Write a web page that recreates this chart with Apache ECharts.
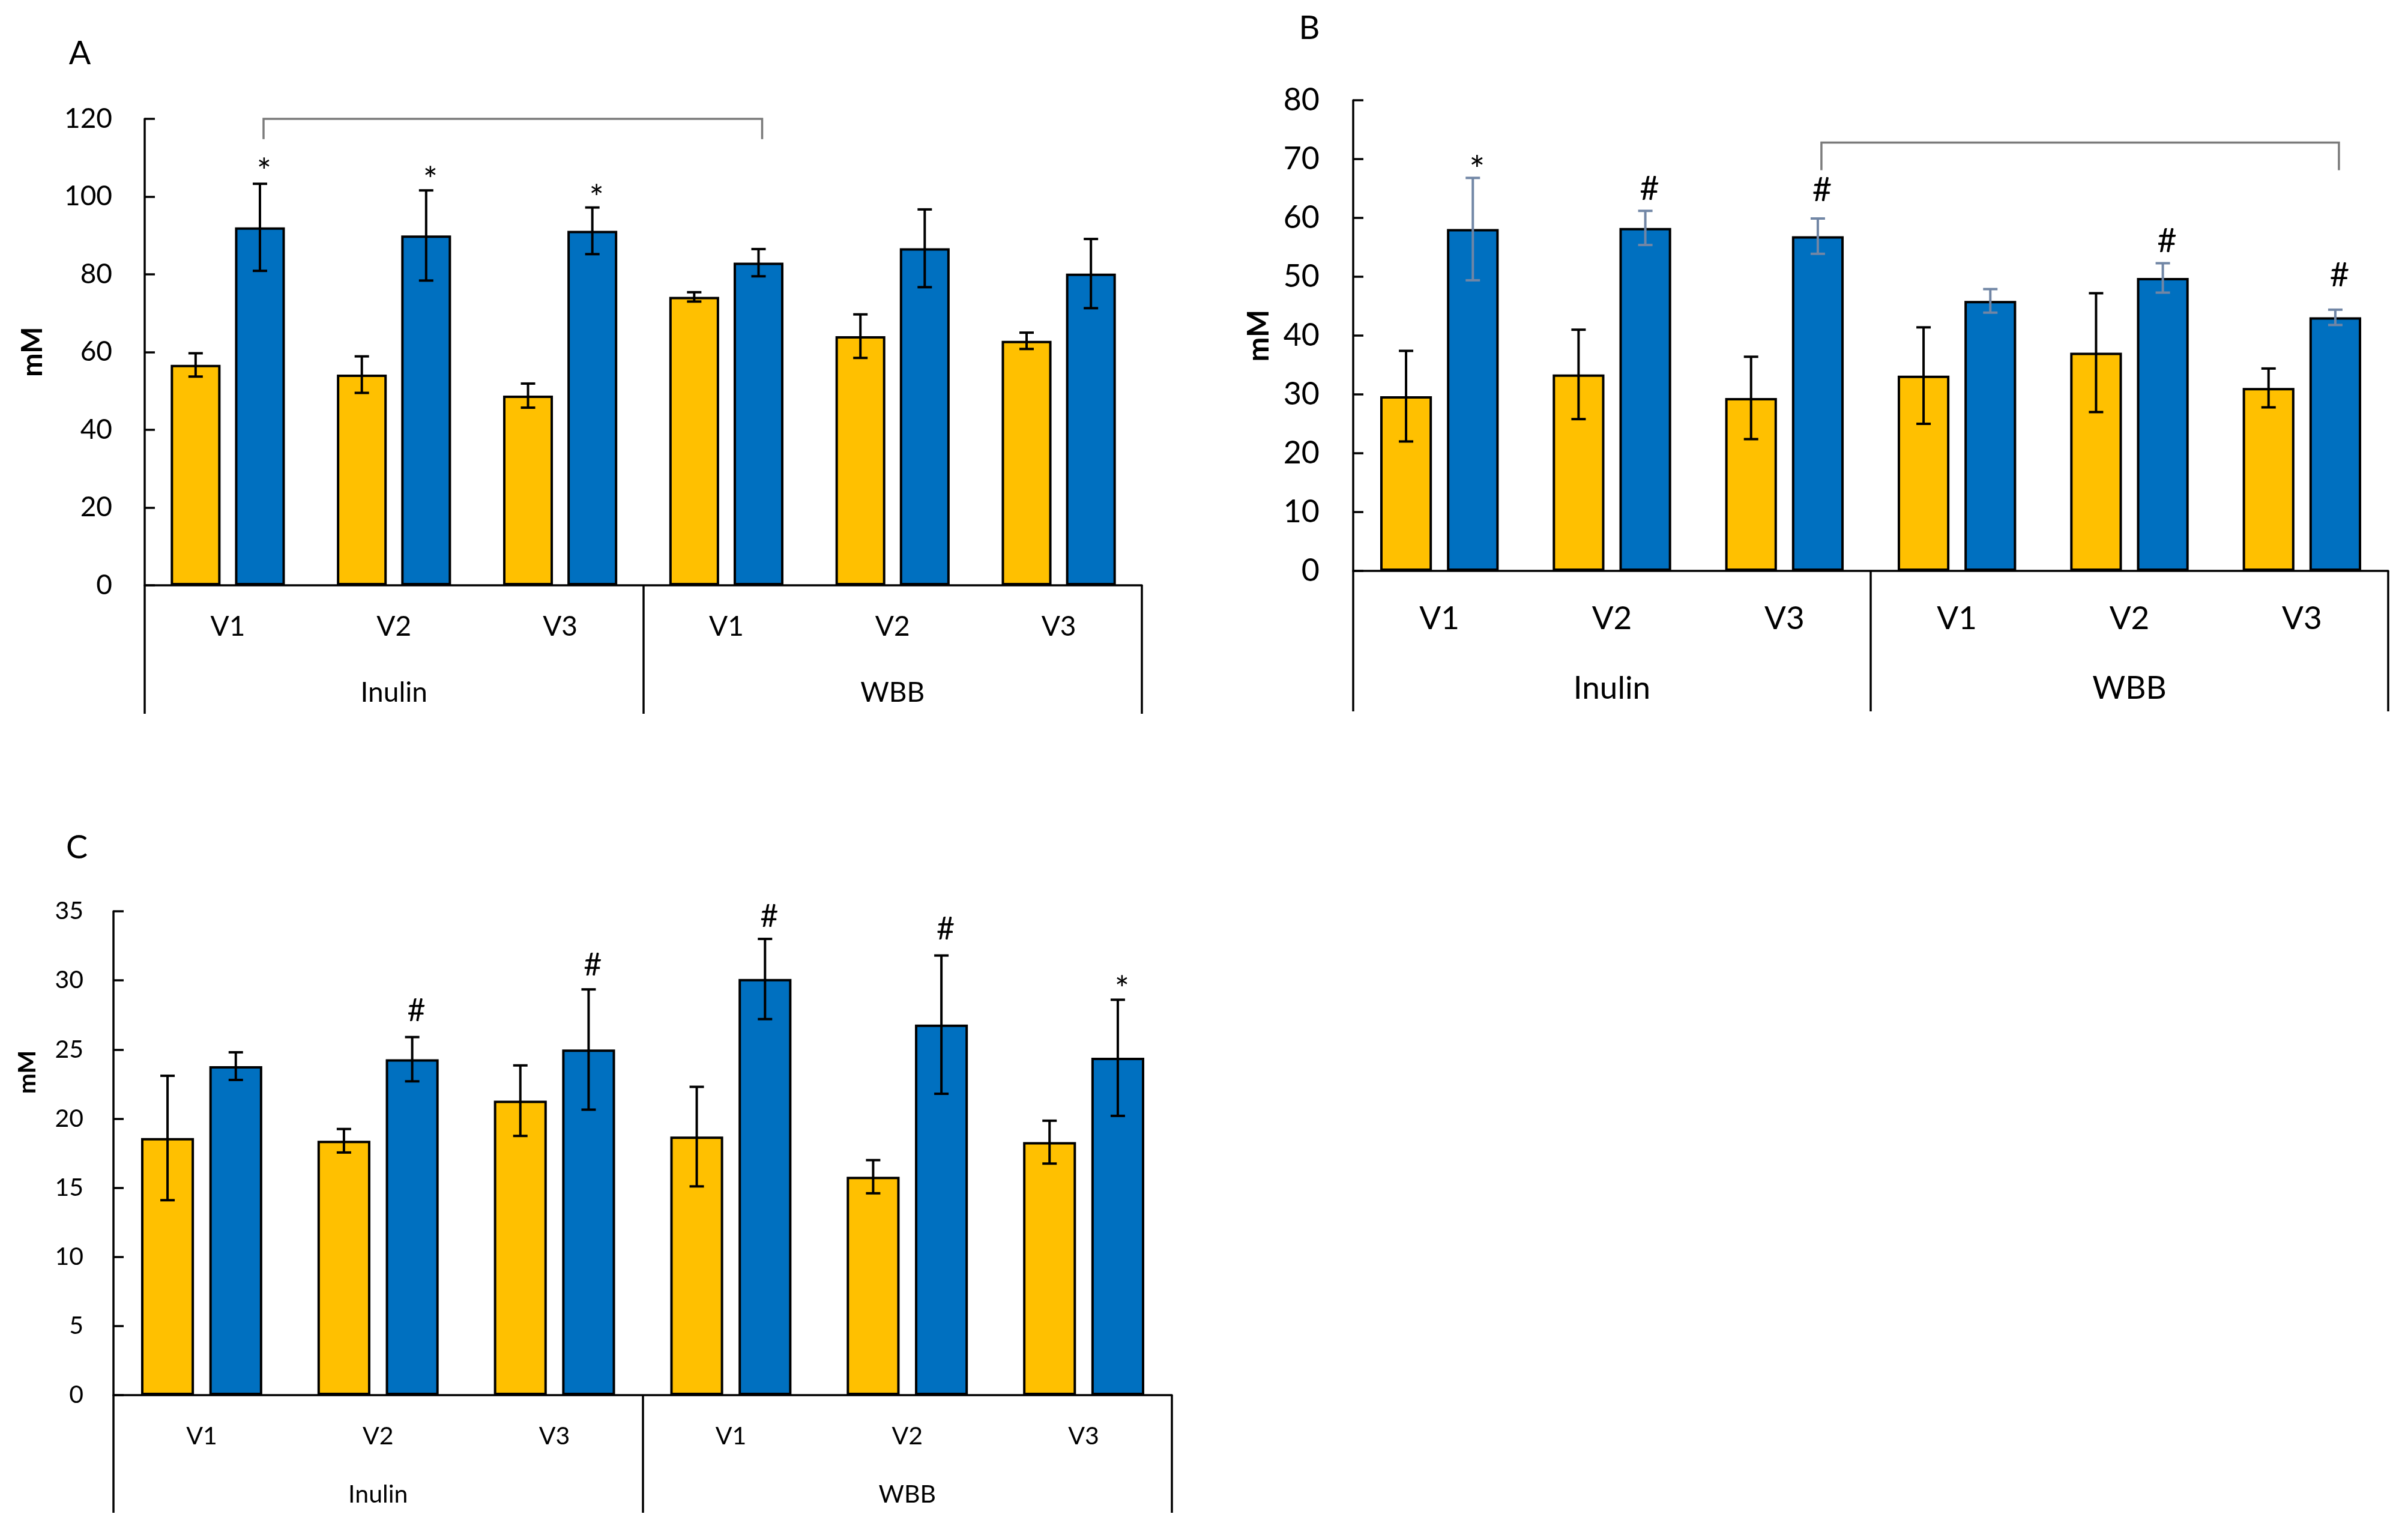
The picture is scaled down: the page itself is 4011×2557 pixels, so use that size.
<!DOCTYPE html>
<html><head><meta charset="utf-8">
<script src="https://cdn.jsdelivr.net/npm/echarts@6/dist/echarts.min.js"></script>
<style>html,body{margin:0;padding:0;background:#fff}#c{width:4011px;height:2557px}</style>
</head><body><div id="c"></div>
<script>
// ---------- data ----------
const categories = ['V1', 'V2', 'V3', 'V1', 'V2', 'V3'];
const groups = ['Inulin', 'WBB'];

// Panel A
const A_yellow    = [56.7, 54.2, 48.8, 74.2, 64.1, 62.9];
const A_yellowErr = [3.0, 4.7, 3.1, 1.2, 5.6, 2.1];
const A_blue      = [92.1, 90.0, 91.2, 83.0, 86.7, 80.2];
const A_blueErr   = [11.2, 11.6, 6.0, 3.5, 10.0, 8.9];
const A_marks     = [[0, '*', 108.0], [1, '*', 105.7], [2, '*', 101.1]];
const A_bracket   = [0, 3, 120.0, 114.8];
const A_ticks     = {min: 0, max: 120, interval: 20};

// Panel B
const B_yellow    = [29.7, 33.4, 29.4, 33.2, 37.1, 31.1];
const B_yellowErr = [7.7, 7.6, 7.0, 8.2, 10.1, 3.3];
const B_blue      = [58.1, 58.3, 56.9, 45.9, 49.8, 43.1];
const B_blueErr   = [8.7, 2.9, 3.0, 2.0, 2.5, 1.3];
const B_marks     = [[0, '*', 69.2], [1, '#', 64.9], [2, '#', 64.7], [4, '#', 56.0], [5, '#', 50.2]];
const B_bracket   = [2, 5, 72.8, 68.1];
const B_ticks     = {min: 0, max: 80, interval: 10};

// Panel C
const C_yellow    = [18.6, 18.4, 21.3, 18.7, 15.8, 18.3];
const C_yellowErr = [4.5, 0.85, 2.55, 3.6, 1.2, 1.55];
const C_blue      = [23.8, 24.3, 25.0, 30.1, 26.8, 24.4];
const C_blueErr   = [1.0, 1.6, 4.35, 2.9, 5.0, 4.2];
const C_marks     = [[1, '#', 27.8], [2, '#', 31.1], [3, '#', 34.6], [4, '#', 33.7], [5, '*', 29.8]];
const C_bracket   = null;
const C_ticks     = {min: 0, max: 35, interval: 5};

// ---------- style / layout ----------
const FONT = 'Lato, "Open Sans", sans-serif';
const YELLOW = '#FFC000', BLUE = '#0070C0';
const BAR_PCT = 0.30, GAP_PCT = 0.29;

const panels = [
  {letter: 'A', letterPos: [133, 90], yName: [55, 586], yNameSize: 47,
   grid: {left: 241, top: 198, width: 1661, height: 777},
   tickFont: 46, catFont: 46, yMargin: 54, catMargin: 69, grpMargin: 179, boxLen: 214,
   yellow: A_yellow, yellowErr: A_yellowErr, blue: A_blue, blueErr: A_blueErr,
   marks: A_marks, bracket: A_bracket, ticks: A_ticks, blueErrColor: '#000', markFont: 52},
  {letter: 'B', letterPos: [2181, 48], yName: [2097, 559], yNameSize: 49,
   grid: {left: 2254, top: 167, width: 1724, height: 784},
   tickFont: 52, catFont: 53, yMargin: 56, catMargin: 80, grpMargin: 196, boxLen: 234,
   yellow: B_yellow, yellowErr: B_yellowErr, blue: B_blue, blueErr: B_blueErr,
   marks: B_marks, bracket: B_bracket, ticks: B_ticks, blueErrColor: '#7186a5', markFont: 56},
  {letter: 'C', letterPos: [128, 1413], yName: [46, 1786], yNameSize: 41,
   grid: {left: 189, top: 1518, width: 1763, height: 806},
   tickFont: 41, catFont: 41, yMargin: 50, catMargin: 69, grpMargin: 166, boxLen: 196,
   yellow: C_yellow, yellowErr: C_yellowErr, blue: C_blue, blueErr: C_blueErr,
   marks: C_marks, bracket: C_bracket, ticks: C_ticks, blueErrColor: '#000', markFont: 52}
];

function barOffset(api, side) {
  const band = api.size([1, 0])[0];
  const bw = band * BAR_PCT;
  return side * (bw + bw * GAP_PCT) / 2;
}

function errRender(side, color) {
  return function (params, api) {
    const i = api.value(0), v = api.value(1), e = api.value(2);
    const x = api.coord([i, v])[0] + barOffset(api, side);
    const yt = api.coord([i, v + e])[1], yb = api.coord([i, v - e])[1];
    const cap = 12, st = {stroke: color, lineWidth: 4};
    return {type: 'group', children: [
      {type: 'line', shape: {x1: x, y1: yt, x2: x, y2: yb}, style: st},
      {type: 'line', shape: {x1: x - cap, y1: yt, x2: x + cap, y2: yt}, style: st},
      {type: 'line', shape: {x1: x - cap, y1: yb, x2: x + cap, y2: yb}, style: st}
    ]};
  };
}

const option = {
  backgroundColor: '#fff',
  animation: false,
  grid: [], xAxis: [], yAxis: [], series: [], graphic: []
};

panels.forEach(function (p, k) {
  option.grid.push(Object.assign({containLabel: false}, p.grid));
  option.xAxis.push({
    type: 'category', data: categories, gridIndex: k, position: 'bottom',
    axisLine: {show: true, lineStyle: {color: '#000', width: 3.5}},
    axisTick: {show: false},
    axisLabel: {fontSize: p.catFont, fontFamily: FONT, color: '#000', margin: p.catMargin, verticalAlign: 'middle', interval: 0},
    splitLine: {show: false}
  });
  option.xAxis.push({
    type: 'category', data: groups, gridIndex: k, position: 'bottom',
    axisLine: {show: false},
    axisTick: {show: true, interval: 0, length: p.boxLen, lineStyle: {color: '#000', width: 3.5}},
    axisLabel: {fontSize: p.catFont, fontFamily: FONT, color: '#000', margin: p.grpMargin, verticalAlign: 'middle', interval: 0},
    splitLine: {show: false}
  });
  option.yAxis.push({
    type: 'value', gridIndex: k, min: p.ticks.min, max: p.ticks.max, interval: p.ticks.interval,
    axisLine: {show: true, lineStyle: {color: '#000', width: 3.5}},
    axisTick: {show: true, inside: true, length: 17, lineStyle: {color: '#000', width: 3.5}},
    axisLabel: {fontSize: p.tickFont, fontFamily: FONT, color: '#000', margin: p.yMargin},
    splitLine: {show: false}
  });
  const xi = k * 2, yi = k;
  option.series.push({
    type: 'bar', xAxisIndex: xi, yAxisIndex: yi, data: p.yellow,
    barWidth: (BAR_PCT * 100) + '%', barGap: (GAP_PCT * 100) + '%',
    itemStyle: {color: YELLOW, borderColor: '#000', borderWidth: 4}, z: 2
  });
  option.series.push({
    type: 'bar', xAxisIndex: xi, yAxisIndex: yi, data: p.blue,
    barWidth: (BAR_PCT * 100) + '%', barGap: (GAP_PCT * 100) + '%',
    itemStyle: {color: BLUE, borderColor: '#000', borderWidth: 4}, z: 2
  });
  option.series.push({
    type: 'custom', xAxisIndex: xi, yAxisIndex: yi, z: 5, clip: false,
    data: p.yellow.map(function (v, i) { return [i, v, p.yellowErr[i]]; }),
    renderItem: errRender(-1, '#000')
  });
  option.series.push({
    type: 'custom', xAxisIndex: xi, yAxisIndex: yi, z: 5, clip: false,
    data: p.blue.map(function (v, i) { return [i, v, p.blueErr[i]]; }),
    renderItem: errRender(1, p.blueErrColor)
  });
  const marks = p.marks;
  option.series.push({
    type: 'custom', xAxisIndex: xi, yAxisIndex: yi, z: 6, clip: false,
    data: marks.map(function (m) { return [m[0], m[2]]; }),
    renderItem: function (params, api) {
      const m = marks[params.dataIndex];
      const c = api.coord([api.value(0), api.value(1)]);
      const x = c[0] + barOffset(api, 1) + 7;
      const fs = m[1] === '*' ? p.markFont * 1.1 : p.markFont;
      const y = m[1] === '*' ? c[1] + fs * 0.2 : c[1];
      return {type: 'text', x: x, y: y,
        style: {text: m[1], fontSize: fs, fontFamily: FONT, fill: '#000', align: 'center', verticalAlign: 'middle'}};
    }
  });
  if (p.bracket) {
    const b = p.bracket;
    option.series.push({
      type: 'custom', xAxisIndex: xi, yAxisIndex: yi, z: 6, clip: false,
      data: [[b[0], b[2], b[1], b[3]]],
      renderItem: function (params, api) {
        const off = barOffset(api, 1) + 6;
        const x1 = api.coord([api.value(0), 0])[0] + off;
        const x2 = api.coord([api.value(2), 0])[0] + off;
        const yt = api.coord([0, api.value(1)])[1];
        const yd = api.coord([0, api.value(3)])[1];
        return {type: 'polyline', shape: {points: [[x1, yd], [x1, yt], [x2, yt], [x2, yd]]},
          style: {stroke: '#7a7a7a', lineWidth: 3.5, fill: null}};
      }
    });
  }
  option.graphic.push({
    type: 'text', x: p.letterPos[0], y: p.letterPos[1],
    style: {text: p.letter, fontSize: 54, fontFamily: FONT, fill: '#000', align: 'center', verticalAlign: 'middle'}
  });
  option.graphic.push({
    type: 'text', x: p.yName[0], y: p.yName[1], rotation: Math.PI / 2,
    style: {text: 'mM', fontSize: p.yNameSize, fontWeight: 'bold', fontFamily: FONT, fill: '#000', align: 'center', verticalAlign: 'middle'}
  });
});

const chart = echarts.init(document.getElementById('c'), null, {renderer: 'canvas'});
chart.setOption(option);
</script>
</body></html>
